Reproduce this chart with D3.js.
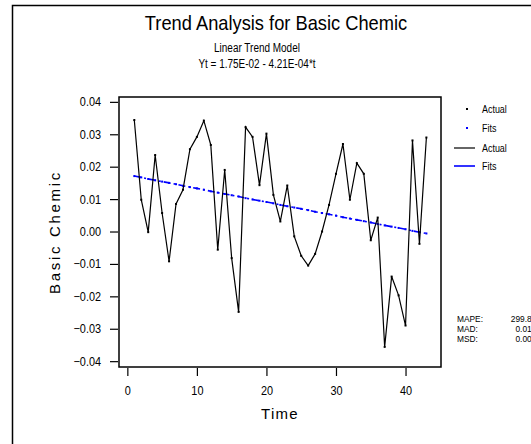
<!DOCTYPE html>
<html>
<head>
<meta charset="utf-8">
<script src="https://cdn.jsdelivr.net/npm/d3@7"></script>
<style>
  body { margin: 0; background: #fff; }
  text { font-family: "Liberation Sans", Arial, sans-serif; fill: #000; }
</style>
</head>
<body>
<div id="chart"></div>
<script>
// values
const actual = [0.0344, 0.0098, -0.0002, 0.0236, 0.0057, -0.0092, 0.0085, 0.0129, 0.0254, 0.0292,
  0.0342, 0.0267, -0.0056, 0.0190, -0.0082, -0.0248, 0.0322, 0.0292, 0.0143, 0.0302,
  0.0113, 0.0031, 0.0142, -0.0015, -0.0075, -0.0105, -0.0069, 0.0000, 0.0082, 0.0178,
  0.0270, 0.0098, 0.0211, 0.0178, -0.0027, 0.0043, -0.0356, -0.0139, -0.0197, -0.0290,
  0.0281, -0.0038, 0.0290];
const fits = [0.0171, 0.0167, 0.0162, 0.0158, 0.0154, 0.0150, 0.0146, 0.0141, 0.0137, 0.0133,
  0.0129, 0.0124, 0.0120, 0.0116, 0.0112, 0.0108, 0.0103, 0.0099, 0.0095, 0.0091,
  0.0087, 0.0082, 0.0078, 0.0074, 0.0070, 0.0066, 0.0061, 0.0057, 0.0053, 0.0049,
  0.0044, 0.0040, 0.0036, 0.0032, 0.0028, 0.0023, 0.0019, 0.0015, 0.0011, 0.0007,
  0.0002, -0.0002, -0.0006];
const yTicks = [0.04, 0.03, 0.02, 0.01, 0.00, -0.01, -0.02, -0.03, -0.04];
const xTicks = [0, 10, 20, 30, 40];
const accuracyNames = ["MAPE:", "MAD:", "MSD:"];
const accuracyVals = ["299.855", "0.0158", "0.0004"];
const legendNames = ["Actual", "Fits", "Actual", "Fits"];

const width = 531, height = 444;
const svg = d3.select("#chart").append("svg")
  .attr("width", width).attr("height", height);

// squeeze text horizontally, the original uses a narrow face
function narrow(sel, k) {
  sel.each(function () {
    const w = this.getComputedTextLength();
    d3.select(this).attr("textLength", w * k).attr("lengthAdjust", "spacingAndGlyphs");
  });
}

// outer frame
svg.append("rect")
  .attr("x", 12.5).attr("y", 5.5).attr("width", 560).attr("height", 480)
  .attr("fill", "none").attr("stroke", "#000").attr("stroke-width", 1.5);

const pLeft = 119, pRight = 441, pTop = 97, pBottom = 367;
const x = d3.scaleLinear().domain([-1.2, 45.1]).range([pLeft, pRight]);
const y = d3.scaleLinear().domain([-0.0418, 0.0415]).range([pBottom, pTop]);

// titles
svg.append("text").attr("x", 276).attr("y", 29.5).attr("text-anchor", "middle")
  .style("font-size", "21px").text("Trend Analysis for Basic Chemic")
  .call(narrow, 0.87);
svg.append("text").attr("x", 257).attr("y", 51.5).attr("text-anchor", "middle")
  .style("font-size", "12px").text("Linear Trend Model")
  .call(narrow, 0.83);
svg.append("text").attr("x", 257).attr("y", 67.5).attr("text-anchor", "middle")
  .style("font-size", "12px").text("Yt = 1.75E-02 - 4.21E-04*t")
  .call(narrow, 0.83);

// axes
const yAxis = svg.append("g").attr("transform", `translate(${pLeft - 1},0)`)
  .call(d3.axisLeft(y).tickValues(yTicks).tickSize(8).tickPadding(9).tickFormat(d3.format(".2f")));
const xAxis = svg.append("g").attr("transform", `translate(0,${pBottom + 1})`)
  .call(d3.axisBottom(x).tickValues(xTicks).tickSize(8).tickPadding(10));
[yAxis, xAxis].forEach(g => {
  g.select(".domain").remove();
  g.selectAll("line").attr("stroke", "#000").attr("stroke-width", 1.2);
  g.selectAll("text").style("font-size", "12.5px")
    .style("font-family", '"Liberation Sans", Arial, sans-serif')
    .call(narrow, 0.87);
});

// plot box
svg.append("rect")
  .attr("x", pLeft).attr("y", pTop).attr("width", pRight - pLeft).attr("height", pBottom - pTop)
  .attr("fill", "none").attr("stroke", "#000").attr("stroke-width", 1.5);

svg.append("text")
  .attr("x", 280).attr("y", 419).attr("text-anchor", "middle")
  .style("font-size", "15px").style("letter-spacing", "1.3px").text("Time");
svg.append("text")
  .attr("transform", "translate(60,232) rotate(-90)").attr("text-anchor", "middle")
  .style("font-size", "15px").style("letter-spacing", "2.7px").text("Basic Chemic");

// series
const t = d3.range(1, actual.length + 1);
const line = d3.line().x((d, i) => x(t[i])).y(d => y(d));

svg.append("path").datum(fits)
  .attr("d", line).attr("fill", "none").attr("stroke", "#0000ff")
  .attr("stroke-width", 1.6).attr("stroke-dasharray", "7,3,2,3");
svg.append("g").selectAll("rect").data(fits).join("rect")
  .attr("x", (d, i) => x(t[i]) - 1).attr("y", d => y(d) - 1)
  .attr("width", 2).attr("height", 2).attr("fill", "#0000ff");

svg.append("path").datum(actual)
  .attr("d", line).attr("fill", "none").attr("stroke", "#000").attr("stroke-width", 1.2);
svg.append("g").selectAll("rect").data(actual).join("rect")
  .attr("x", (d, i) => x(t[i]) - 1).attr("y", d => y(d) - 1)
  .attr("width", 2).attr("height", 2).attr("fill", "#000");

// legend
const legY = [109, 128, 148, 166];
const legColor = ["#000", "#0000ff", "#000", "#0000ff"];
const leg = svg.append("g");
legendNames.forEach((name, i) => {
  if (i < 2) {
    leg.append("rect").attr("x", 466).attr("y", legY[i] - 1).attr("width", 2).attr("height", 2)
      .attr("fill", legColor[i]);
  } else {
    leg.append("line").attr("x1", 454).attr("x2", 475).attr("y1", legY[i]).attr("y2", legY[i])
      .attr("stroke", legColor[i]).attr("stroke-width", i === 3 ? 1.6 : 1.2);
  }
  leg.append("text").attr("x", 482).attr("y", legY[i]).attr("dy", "0.35em")
    .style("font-size", "10.5px").text(name).call(narrow, 0.85);
});

// accuracy measures
accuracyNames.forEach((name, i) => {
  svg.append("text").attr("x", 457).attr("y", 319 + i * 10).attr("dy", "0.35em")
    .style("font-size", "9.5px").text(name).call(narrow, 0.88);
  svg.append("text").attr("x", 541).attr("y", 319 + i * 10).attr("dy", "0.35em")
    .attr("text-anchor", "end").style("font-size", "9.5px").text(accuracyVals[i]).call(narrow, 0.88);
});
</script>
</body>
</html>
